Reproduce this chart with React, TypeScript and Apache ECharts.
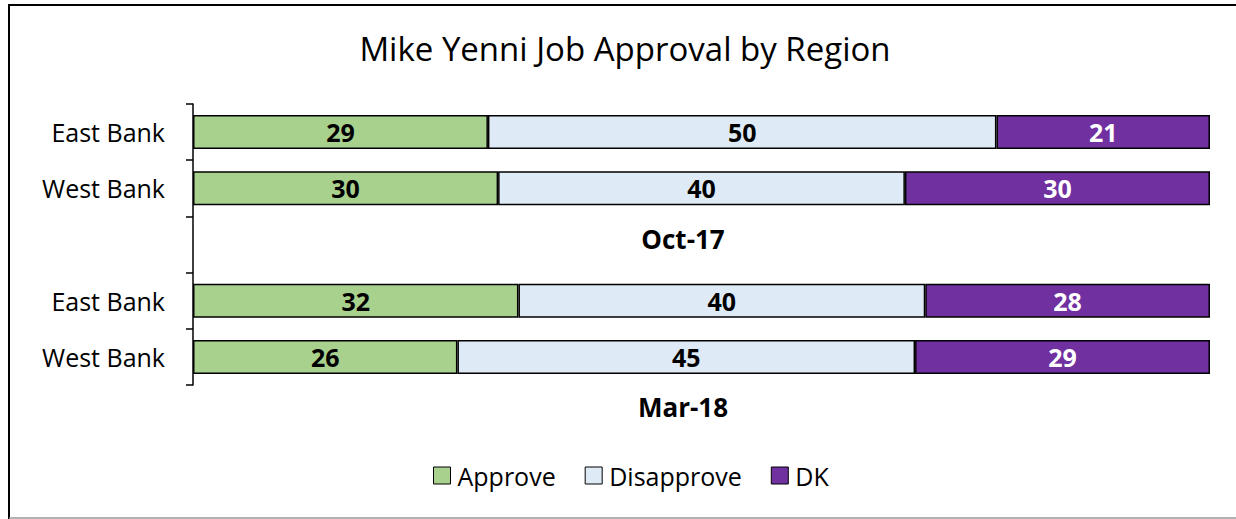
import React, { useEffect, useRef } from "react";
import * as echarts from "echarts";

const categories = ["East Bank", "West Bank", "", "East Bank", "West Bank"];
const approve = [29, 30, null, 32, 26];
const disapprove = [50, 40, null, 40, 45];
const dk = [21, 30, null, 28, 29];
const groupLabels = ["Oct-17", "Mar-18"];
const title = "Mike Yenni Job Approval by Region";

const FONT = "'Open Sans', 'Noto Sans', sans-serif";

export default function App() {
  const ref = useRef<HTMLDivElement>(null);
  useEffect(() => {
    if (!ref.current) return;
    const chart = echarts.init(ref.current, null, { renderer: "svg" });
    const mkSeries = (name: string, data: (number | null)[], color: string, labelColor: string) => ({
      name,
      type: "bar",
      stack: "total",
      data: data.map((v) => (v === null ? "-" : v)),
      barWidth: 34,
      itemStyle: { color, borderColor: "#000", borderWidth: 1.5 },
      label: {
        show: true,
        position: "inside",
        color: labelColor,
        fontWeight: "bold",
        fontSize: 25,
        fontFamily: FONT,
      },
    });
    chart.setOption({
      animation: false,
      textStyle: { fontFamily: FONT },
      title: {
        text: title,
        left: 620,
        top: 27,
        textAlign: "center",
        textStyle: { fontSize: 33, fontWeight: "normal", color: "#000", fontFamily: FONT },
      },
      grid: { left: 193, right: 26, top: 104, bottom: 134, containLabel: false },
      xAxis: { type: "value", min: 0, max: 100, show: false },
      yAxis: {
        type: "category",
        inverse: true,
        data: categories,
        axisLine: { show: true, lineStyle: { color: "#000", width: 1.5 } },
        axisTick: { show: true, length: 7, lineStyle: { color: "#000", width: 1.5 } },
        axisLabel: { color: "#000", fontSize: 25, margin: 28, fontFamily: FONT },
      },
      legend: {
        bottom: 26,
        left: 428,
        icon: "rect",
        itemWidth: 17,
        itemHeight: 17,
        itemGap: 29,
        textStyle: { fontSize: 25, color: "#000", fontFamily: FONT, padding: [0, 0, 0, 2] },
        itemStyle: { borderColor: "#000", borderWidth: 1 },
        data: ["Approve", "Disapprove", "DK"],
      },
      graphic: [
        { type: "line", shape: { x1: 9, y1: 5, x2: 9, y2: 519 }, style: { stroke: "#000", lineWidth: 2 } },
        { type: "line", shape: { x1: 8, y1: 5, x2: 1236, y2: 5 }, style: { stroke: "#000", lineWidth: 2 } },
        { type: "line", shape: { x1: 9, y1: 518, x2: 1236, y2: 518 }, style: { stroke: "#999", lineWidth: 1.5 } },
        {
          type: "text",
          x: 683,
          y: 239,
          style: { text: groupLabels[0], fontSize: 26, fontWeight: "bold", fill: "#000", align: "center", verticalAlign: "middle", fontFamily: FONT },
        },
        {
          type: "text",
          x: 683,
          y: 407,
          style: { text: groupLabels[1], fontSize: 26, fontWeight: "bold", fill: "#000", align: "center", verticalAlign: "middle", fontFamily: FONT },
        },
      ],
      series: [
        mkSeries("Approve", approve, "#a9d18e", "#000"),
        mkSeries("Disapprove", disapprove, "#deebf7", "#000"),
        mkSeries("DK", dk, "#7030a0", "#fff"),
      ],
    });
    return () => chart.dispose();
  }, []);
  return (
    <div
      ref={ref}
      style={{ position: "absolute", left: 0, top: 0, width: 1236, height: 519, background: "#fff" }}
    />
  );
}
